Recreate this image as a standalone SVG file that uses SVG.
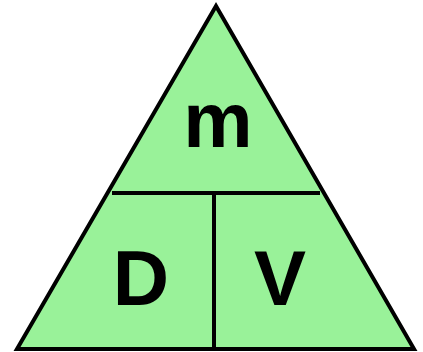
<svg xmlns="http://www.w3.org/2000/svg" width="423" height="352" viewBox="0 0 423 352">
<style>
.shape{fill:#99f299;stroke:#000;stroke-width:4;stroke-linejoin:miter}
.ln{stroke:#000;stroke-width:4;fill:none}
.lbl{font-family:"Liberation Sans",Arial,sans-serif;font-weight:bold;font-size:78px;fill:#000;text-anchor:middle}
</style>
<g id="triangle"><polygon class="shape" points="216,6 17,349 414,349"/></g>
<g id="connectors">
<line class="ln" x1="112" y1="193" x2="320" y2="193"/>
<line class="ln" x1="214" y1="193" x2="214" y2="349"/>
</g>
<g id="node-m"><text class="lbl" x="218" y="147">m</text></g>
<g id="node-D"><text class="lbl" x="141" y="305">D</text></g>
<g id="node-V"><text class="lbl" x="280" y="305">V</text></g>
</svg>
